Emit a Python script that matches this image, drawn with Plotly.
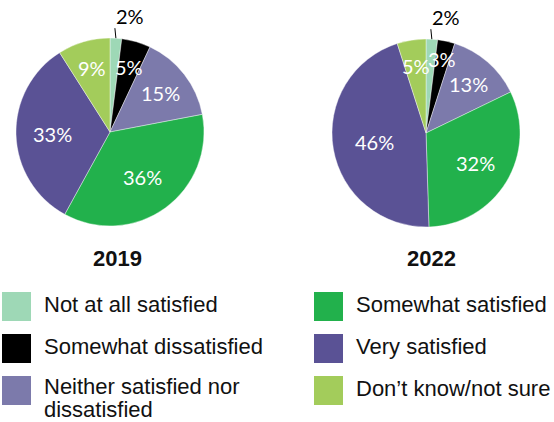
import math
import plotly.graph_objects as go

# Survey responses: share of respondents by satisfaction level
categories = [
    "Not at all satisfied",
    "Somewhat dissatisfied",
    "Neither satisfied nor dissatisfied",
    "Somewhat satisfied",
    "Very satisfied",
    "Don’t know/not sure",
]
values_2019 = [2, 5, 15, 36, 33, 9]
values_2022 = [2, 3, 13, 32, 46, 5]
years = ["2019", "2022"]

colors = ["#9ed8b6", "#000000", "#7c7aab", "#22b14c", "#5a5295", "#a3cc5b"]

W, H = 554, 422


def px(x):
    return x / W


def py(y):
    return 1 - y / H


# pie geometry in pixels: (centre x, centre y, radius)
pies = [(110, 132, 94), (426, 133, 94)]
title_x = [117, 431]
label_font = dict(family="Lato", size=20)

fig = go.Figure()
annotations = []
shapes = []

for vals, (cx, cy, r) in zip([values_2019, values_2022], pies):
    fig.add_trace(go.Pie(
        labels=categories,
        values=vals,
        sort=False,
        direction="clockwise",
        rotation=0,
        textinfo="none",
        marker=dict(colors=colors, line=dict(color="white", width=0.4)),
        domain=dict(x=[px(cx - r), px(cx + r)], y=[py(cy + r), py(cy - r)]),
        showlegend=False,
        hoverinfo="label+percent",
    ))

    # percentage labels placed along each slice's mid-angle
    total = sum(vals)
    cum = 0
    for v in vals:
        theta = math.radians((cum + v / 2) / total * 360)
        cum += v
        sx, sy = math.sin(theta), -math.cos(theta)
        if v <= 2:
            # tiny slice: label outside with a short leader line
            ex, ey = cx + r * sx, cy + r * sy
            shapes.append(dict(
                type="line", xref="paper", yref="paper",
                x0=px(ex), y0=py(ey), x1=px(ex - 1), y1=py(ey - 10),
                line=dict(color="black", width=1),
            ))
            annotations.append(dict(
                x=px(ex - 2), y=py(ey - 22), xref="paper", yref="paper",
                text=f"{v}%", showarrow=False,
                font=dict(**label_font, color="black"),
                xanchor="left", yanchor="middle",
            ))
        else:
            # narrow slices push their label further towards the rim
            f = 0.81 if v < 4 else 0.74 - 0.004 * v
            annotations.append(dict(
                x=px(cx + f * r * sx), y=py(cy + f * r * sy),
                xref="paper", yref="paper",
                text=f"{v}%", showarrow=False,
                font=dict(**label_font, color="white"),
                xanchor="center", yanchor="middle",
            ))

# year titles under each pie
for yr, tx in zip(years, title_x):
    annotations.append(dict(
        x=px(tx), y=py(258.5), xref="paper", yref="paper",
        text=f"<b>{yr}</b>", showarrow=False,
        font=dict(family="Liberation Sans", size=22, color="#111111"),
        xanchor="center", yanchor="middle",
    ))

# two-column legend with square swatches
col_x = [2, 314]
row_y = [292, 334, 376]
sw = 29
legend_lines = [
    ["Not at all satisfied"],
    ["Somewhat dissatisfied"],
    ["Neither satisfied nor", "dissatisfied"],
    ["Somewhat satisfied"],
    ["Very satisfied"],
    ["Don’t know/not sure"],
]
for i, (lines, col) in enumerate(zip(legend_lines, colors)):
    c, rrow = divmod(i, 3)
    x0, y0 = col_x[c], row_y[rrow]
    shapes.append(dict(
        type="rect", xref="paper", yref="paper",
        x0=px(x0), x1=px(x0 + sw), y0=py(y0 + sw), y1=py(y0),
        fillcolor=col, line=dict(width=0),
    ))
    top = y0 + (12 if len(lines) == 1 else 10)
    for k, line in enumerate(lines):
        annotations.append(dict(
            x=px(x0 + sw + 11), y=py(top + 23 * k), xref="paper", yref="paper",
            text=line, showarrow=False,
            font=dict(family="Liberation Sans", size=22, color="#111111"),
            xanchor="left", yanchor="middle",
        ))

fig.update_layout(
    width=W, height=H,
    margin=dict(l=0, r=0, t=0, b=0),
    paper_bgcolor="white",
    plot_bgcolor="white",
    annotations=annotations,
    shapes=shapes,
)

fig.write_html("out.html")
